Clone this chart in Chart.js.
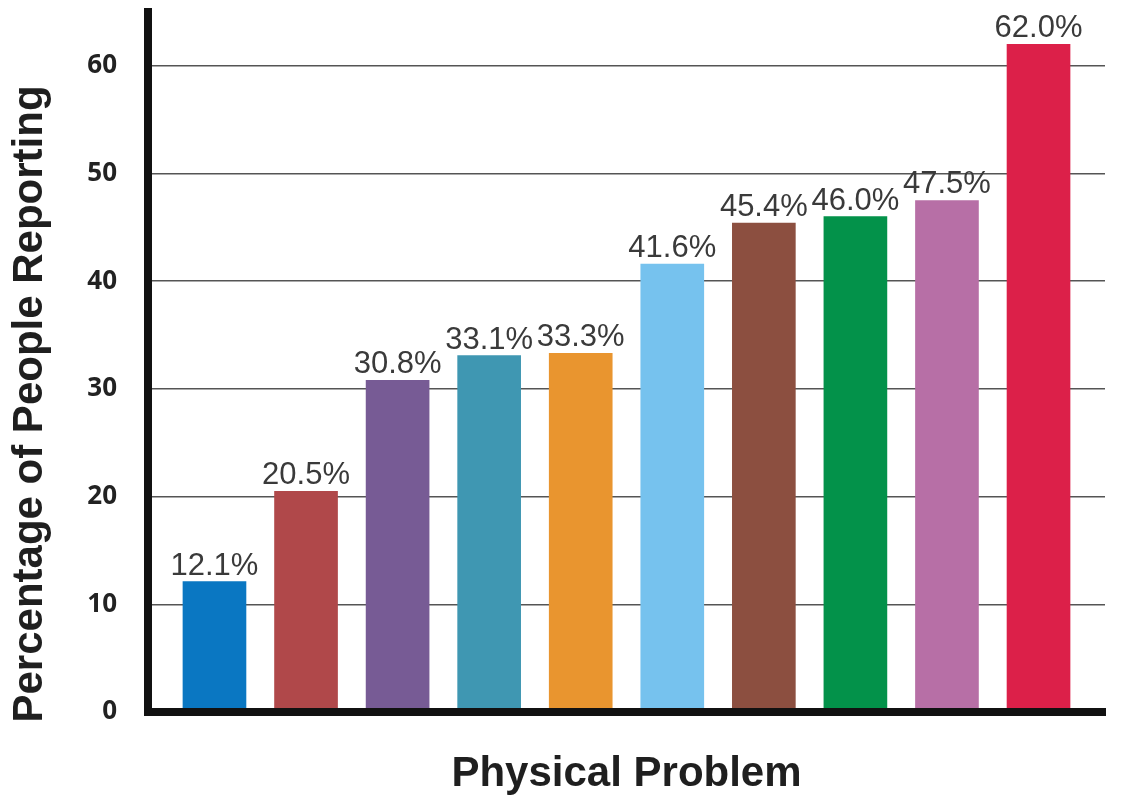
<!DOCTYPE html>
<html>
<head>
<meta charset="utf-8">
<title>Physical Problem</title>
<script src="https://cdn.jsdelivr.net/npm/chart.js@4/dist/chart.umd.min.js"></script>
<style>
  body { margin: 0; background: #fff; }
  #wrap { width: 1130px; height: 800px; position: relative; }
</style>
</head>
<body>
<div id="wrap"><canvas id="myChart"></canvas></div>
<script>
// slot of each bar along the x axis (the problems are not named in the picture)
var slots = [1, 2, 3, 4, 5, 6, 7, 8, 9, 10];
var values = [12.1, 20.5, 30.8, 33.1, 33.3, 41.6, 45.4, 46.0, 47.5, 62.0];
var colors = ['#0a77c2', '#b0484a', '#775b95', '#3f97b2', '#e9952f',
  '#76c2ee', '#8c4f40', '#03924a', '#b76fa6', '#dc2049'];
var yTicks = [0, 10, 20, 30, 40, 50, 60];

var xTitle = 'Physical Problem';
var yTitle = 'Percentage of People Reporting';

// percent labels above each bar
var barLabels = {
  id: 'barLabels',
  afterDatasetsDraw: function(chart) {
    var ctx = chart.ctx;
    var meta = chart.getDatasetMeta(0);
    ctx.save();
    ctx.font = '31px "Liberation Sans", Arial, sans-serif';
    ctx.fillStyle = '#3a3a3a';
    ctx.textAlign = 'center';
    ctx.textBaseline = 'alphabetic';
    meta.data.forEach(function(bar, i) {
      ctx.fillText(values[i].toFixed(1) + '%', bar.x, bar.y - 7);
    });
    ctx.restore();
  }
};

// y title sits lower than the middle of the axis, so draw it by hand
var yTitlePlugin = {
  id: 'yTitle',
  afterDraw: function(chart) {
    var ctx = chart.ctx;
    ctx.save();
    ctx.translate(30, 404);
    ctx.rotate(-Math.PI / 2);
    ctx.font = 'bold 42px "Liberation Sans", Arial, sans-serif';
    ctx.fillStyle = '#1f1f1f';
    ctx.textAlign = 'center';
    ctx.textBaseline = 'middle';
    ctx.fillText(yTitle, 0, 0);
    ctx.restore();
  }
};

var ctx = document.getElementById('myChart').getContext('2d');

var data = {
  datasets: [{
    data: slots.map(function(s, i) { return { x: s, y: values[i] }; }),
    backgroundColor: colors,
    borderWidth: 0,
    barThickness: 63
  }]
};

var options = {
  responsive: true,
  maintainAspectRatio: false,
  animation: false,
  layout: { padding: { top: 12, right: 25, left: 0, bottom: 0 } },
  plugins: { legend: { display: false }, tooltip: { enabled: false } },
  scales: {
    x: {
      type: 'linear',
      min: 0.274,
      max: 10.726,
      bounds: 'data',
      offset: false,
      grid: { display: false, drawTicks: false, offset: false },
      border: { display: true, color: '#111', width: 8, z: 1 },
      ticks: { display: false, stepSize: 1 },
      title: {
        display: true,
        text: xTitle,
        color: '#1f1f1f',
        font: { family: '"Liberation Sans", Arial, sans-serif', size: 42, weight: 'bold' },
        padding: { top: 0, bottom: 0 }
      },
      afterFit: function(scale) { scale.height = 88; }
    },
    y: {
      min: 0,
      max: 65,
      grid: { color: '#555', lineWidth: 1.5, drawTicks: false },
      border: { display: true, color: '#111', width: 8 },
      afterBuildTicks: function(scale) {
        scale.ticks = yTicks.map(function(v) { return { value: v }; });
      },
      ticks: {
        padding: 31,
        color: '#222',
        font: { family: '"Open Sans", sans-serif', size: 26, weight: 'bold' }
      },
      afterFit: function(scale) {
        scale.width = 148;
        scale.paddingTop = 0;
        scale.paddingBottom = 0;
      }
    }
  }
};

var myChart = new Chart(ctx, {
  type: 'bar',
  data: data,
  options: options,
  plugins: [barLabels, yTitlePlugin]
});
</script>
</body>
</html>
